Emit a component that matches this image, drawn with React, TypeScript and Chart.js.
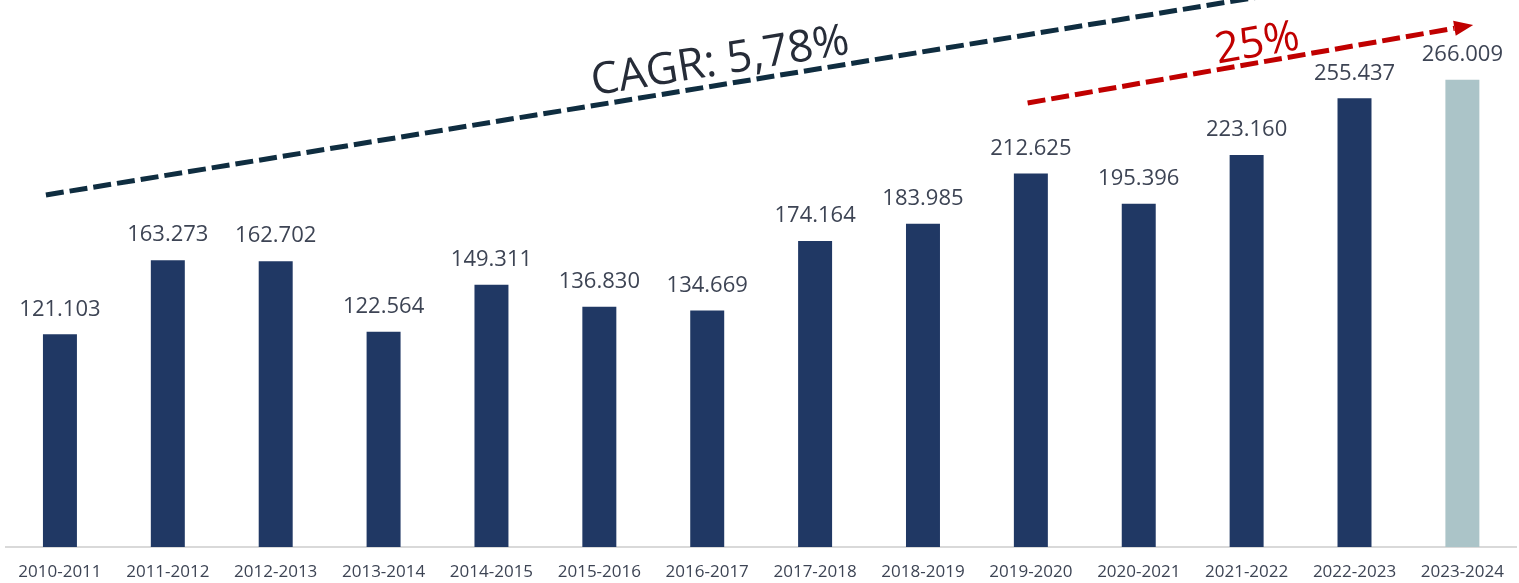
import React, { useEffect, useRef } from "react";
import { Chart, registerables } from "chart.js";

Chart.register(...registerables);

const categories = [
  "2010-2011", "2011-2012", "2012-2013", "2013-2014", "2014-2015", "2015-2016", "2016-2017",
  "2017-2018", "2018-2019", "2019-2020", "2020-2021", "2021-2022", "2022-2023", "2023-2024",
];
const values = [
  121103, 163273, 162702, 122564, 149311, 136830, 134669,
  174164, 183985, 212625, 195396, 223160, 255437, 266009,
];
const labels = [
  "121.103", "163.273", "162.702", "122.564", "149.311", "136.830", "134.669",
  "174.164", "183.985", "212.625", "195.396", "223.160", "255.437", "266.009",
];
const barColors = [
  "#203864", "#203864", "#203864", "#203864", "#203864", "#203864", "#203864",
  "#203864", "#203864", "#203864", "#203864", "#203864", "#203864", "#abc4c8",
];

// trend annotations in data coordinates (category index, value)
const cagrLine = { fromIndex: -0.13, fromValue: 200400, toIndex: 11.5, toValue: 317000 };
const cagrText = { text: "CAGR: 5,78%", index: 6.12, value: 276100 };
const growthArrow = { fromIndex: 8.97, fromValue: 252760, toIndex: 13.1, toValue: 297170 };
const growthText = { text: "25%", index: 11.1, value: 286300 };

const FONT = "'Open Sans', sans-serif";

const labelPlugin = {
  id: "barLabels",
  afterDatasetsDraw(chart: any) {
    const ctx = chart.ctx;
    const meta = chart.getDatasetMeta(0);
    ctx.save();
    ctx.font = `22px ${FONT}`;
    ctx.fillStyle = "#3d4454";
    ctx.textAlign = "center";
    ctx.textBaseline = "middle";
    meta.data.forEach((bar: any, i: number) => {
      ctx.fillText(labels[i], bar.x, bar.y - 25);
    });
    ctx.restore();
  },
};

const annotationPlugin = {
  id: "trendAnnotations",
  afterDatasetsDraw(chart: any) {
    const ctx = chart.ctx;
    const xs = chart.scales.x;
    const ys = chart.scales.y;
    const px = (i: number) => xs.getPixelForValue(i);
    const py = (v: number) => ys.getPixelForValue(v);
    ctx.save();

    // CAGR dashed line
    const x1 = px(cagrLine.fromIndex), y1 = py(cagrLine.fromValue);
    const x2 = px(cagrLine.toIndex), y2 = py(cagrLine.toValue);
    ctx.strokeStyle = "#0f2d40";
    ctx.lineWidth = 5;
    ctx.setLineDash([18, 6]);
    ctx.lineCap = "butt";
    ctx.beginPath();
    ctx.moveTo(x1, y1);
    ctx.lineTo(x2, y2);
    ctx.stroke();
    const a1 = Math.atan2(y2 - y1, x2 - x1);

    ctx.save();
    ctx.translate(px(cagrText.index), py(cagrText.value));
    ctx.rotate(a1);
    ctx.setLineDash([]);
    ctx.font = `44px ${FONT}`;
    ctx.fillStyle = "#262c38";
    ctx.textAlign = "center";
    ctx.textBaseline = "middle";
    ctx.fillText(cagrText.text, 0, 0);
    ctx.restore();

    // red arrow
    const r1x = px(growthArrow.fromIndex), r1y = py(growthArrow.fromValue);
    const r2x = px(growthArrow.toIndex), r2y = py(growthArrow.toValue);
    const a2 = Math.atan2(r2y - r1y, r2x - r1x);
    const head = 19;
    const bx = r2x - head * Math.cos(a2), by = r2y - head * Math.sin(a2);
    ctx.strokeStyle = "#c00000";
    ctx.fillStyle = "#c00000";
    ctx.lineWidth = 5;
    ctx.setLineDash([18, 6]);
    ctx.beginPath();
    ctx.moveTo(r1x, r1y);
    ctx.lineTo(bx, by);
    ctx.stroke();
    ctx.setLineDash([]);
    const hw = 7.5;
    ctx.beginPath();
    ctx.moveTo(r2x, r2y);
    ctx.lineTo(bx + hw * Math.sin(a2), by - hw * Math.cos(a2));
    ctx.lineTo(bx - hw * Math.sin(a2), by + hw * Math.cos(a2));
    ctx.closePath();
    ctx.fill();

    ctx.save();
    ctx.translate(px(growthText.index), py(growthText.value));
    ctx.rotate(a2);
    ctx.font = `43px ${FONT}`;
    ctx.fillStyle = "#c00000";
    ctx.textAlign = "center";
    ctx.textBaseline = "middle";
    ctx.fillText(growthText.text, 0, 0);
    ctx.restore();

    ctx.restore();
  },
};

export default function App() {
  const ref = useRef<HTMLCanvasElement | null>(null);
  useEffect(() => {
    if (!ref.current) return;
    const chart = new Chart(ref.current, {
      type: "bar",
      data: {
        labels: categories,
        datasets: [
          {
            data: values,
            backgroundColor: barColors,
            borderWidth: 0,
            categoryPercentage: 1,
            barPercentage: 0.315,
          },
        ],
      },
      options: {
        animation: false,
        responsive: true,
        maintainAspectRatio: false,
        layout: { padding: { top: 20, left: 6, right: 0, bottom: 0 } },
        plugins: { legend: { display: false }, tooltip: { enabled: false } },
        scales: {
          x: {
            grid: { display: false, drawTicks: false },
            border: { display: true, color: "#d9d9d9", width: 2 },
            ticks: {
              color: "#3d4454",
              font: { family: FONT, size: 17 },
              padding: 15,
              maxRotation: 0,
              autoSkip: false,
            },
            afterFit: (scale: any) => {
              scale.height = 36;
            },
          },
          y: {
            display: false,
            min: 0,
            max: 300000,
          },
        },
      },
      plugins: [labelPlugin, annotationPlugin],
    });
    return () => chart.destroy();
  }, []);
  return (
    <div style={{ position: "fixed", left: 0, top: 0, width: 1519, height: 583, background: "#fff" }}>
      <canvas ref={ref} />
    </div>
  );
}
